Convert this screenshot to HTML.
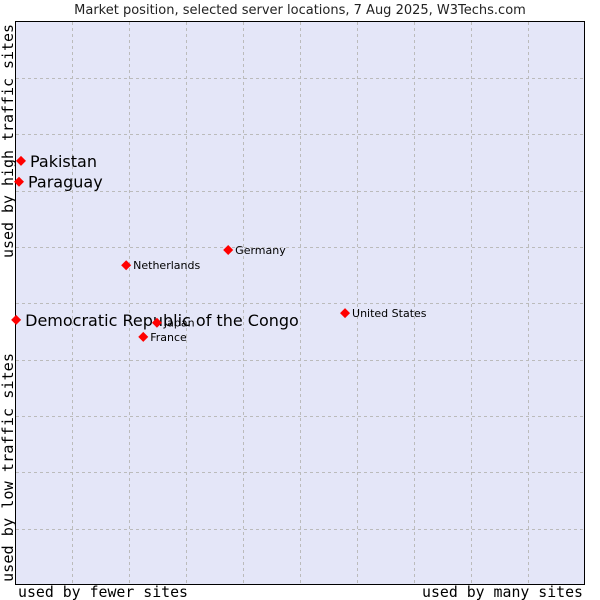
<!DOCTYPE html>
<html><head><meta charset="utf-8"><style>
body{margin:0;background:#fff;}
svg{display:block;font-family:"DejaVu Sans","Liberation Sans",sans-serif;}
</style></head><body>
<svg id="chart" width="600" height="600" viewBox="0 0 600 600">
<text x="300" y="14" text-anchor="middle" font-size="13" fill="#222">Market position, selected server locations, 7 Aug 2025, W3Techs.com</text>
<rect x="15.5" y="21.5" width="569" height="563" fill="#e4e6f8" stroke="#000" stroke-width="1"/>
<g id="grid"></g>
<g id="pts"></g>
<text x="18" y="597" font-family="DejaVu Sans Mono,Liberation Mono,monospace" font-size="15" textLength="170" lengthAdjust="spacingAndGlyphs" fill="#000">used by fewer sites</text>
<text x="422" y="597" font-family="DejaVu Sans Mono,Liberation Mono,monospace" font-size="15" textLength="161" lengthAdjust="spacingAndGlyphs" fill="#000">used by many sites</text>
<text transform="translate(13,582) rotate(-90)" font-family="DejaVu Sans Mono,Liberation Mono,monospace" font-size="15" textLength="229" lengthAdjust="spacingAndGlyphs" fill="#000">used by low traffic sites</text>
<text transform="translate(13,258) rotate(-90)" font-family="DejaVu Sans Mono,Liberation Mono,monospace" font-size="15" textLength="234" lengthAdjust="spacingAndGlyphs" fill="#000">used by high traffic sites</text>
</svg>
<script>
const names=["Pakistan","Paraguay","Democratic Republic of the Congo","Netherlands","Germany","United States","Japan","France"];
const xVals=[1.05,0.7,0.2,19.5,37.4,57.9,24.9,22.5];
const yVals=[75.2,71.5,47.0,56.7,59.4,48.2,46.5,44.0];
const highlighted=[true,true,true,false,false,false,false,false];
const NS="http://www.w3.org/2000/svg";
const X=v=>15+v*5.7, Y=v=>585-v*5.64;
const g=document.getElementById('grid');
for(let i=1;i<10;i++){
  const l=document.createElementNS(NS,'line');
  
  
  const x=Math.round(15+i*57)+0.5;
  l.setAttribute('x1',x);l.setAttribute('x2',x);l.setAttribute('y1',22);l.setAttribute('y2',584);
  l.setAttribute('stroke','#bbb');l.setAttribute('stroke-dasharray','3,3');g.appendChild(l);
  const h=document.createElementNS(NS,'line');
  
  
  const y=Math.round(21.5+i*56.35)+0.5;
  h.setAttribute('x1',16);h.setAttribute('x2',584);h.setAttribute('y1',y);h.setAttribute('y2',y);
  h.setAttribute('stroke','#bbb');h.setAttribute('stroke-dasharray','3,3');g.appendChild(h);
}
const p=document.getElementById('pts');
names.forEach((n,i)=>{
  const x=X(xVals[i]),y=Y(yVals[i]);
  const d=document.createElementNS(NS,'path');
  
  
  d.setAttribute('d',`M${x} ${y-5}L${x+5} ${y}L${x} ${y+5}L${x-5} ${y}Z`);
  d.setAttribute('fill','#f00');p.appendChild(d);
  const t=document.createElementNS(NS,'text');
  
  
  const big=highlighted[i];
  t.setAttribute('x',x+(big?9:7));t.setAttribute('y',y+(big?6:4));
  t.setAttribute('font-size',big?16:11);t.setAttribute('fill','#000');
  t.textContent=n;p.appendChild(t);
});
</script>
</body></html>
